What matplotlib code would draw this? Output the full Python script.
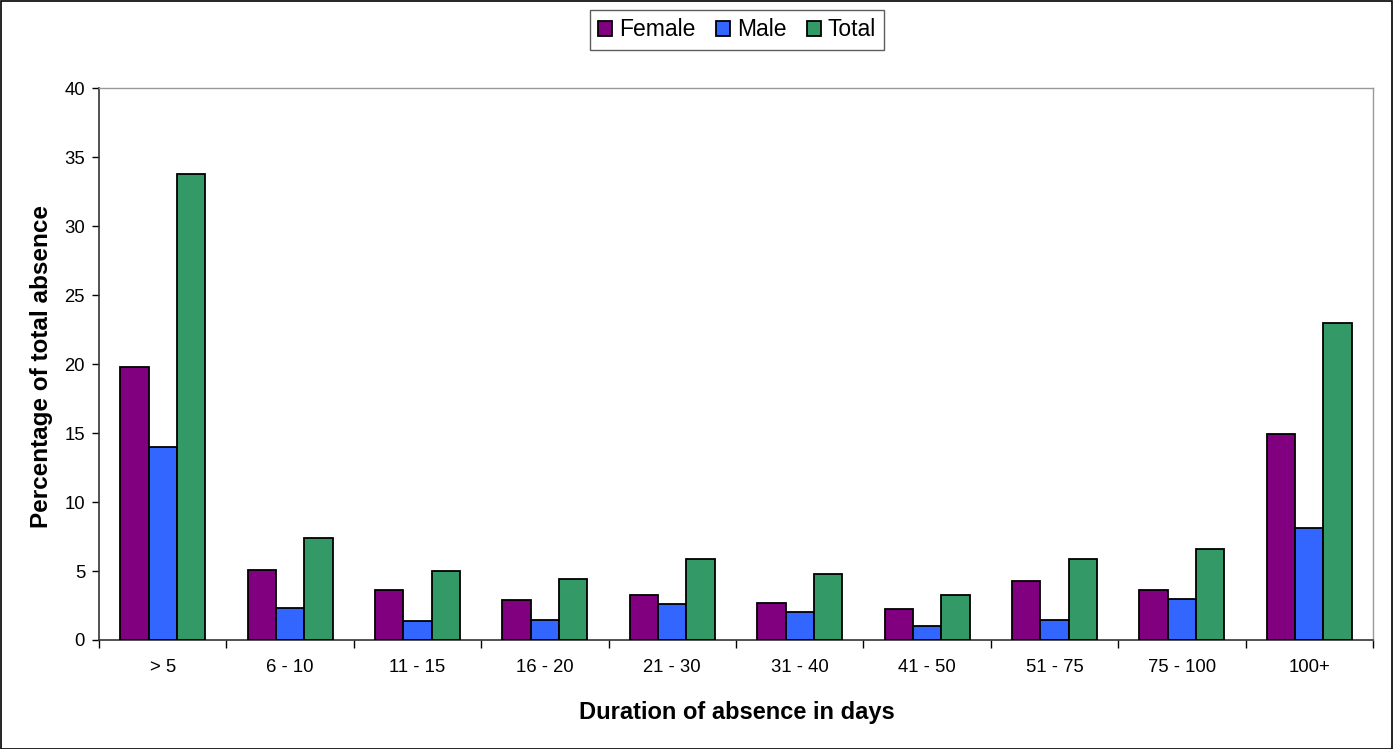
import numpy as np
import matplotlib
matplotlib.use("Agg")
import matplotlib.pyplot as plt
from matplotlib.patches import Rectangle

plt.rcParams["font.family"] = ["Liberation Sans", "DejaVu Sans"]

categories = ["> 5", "6 - 10", "11 - 15", "16 - 20", "21 - 30",
              "31 - 40", "41 - 50", "51 - 75", "75 - 100", "100+"]
female = [19.8, 5.1, 3.65, 2.9, 3.25, 2.7, 2.25, 4.3, 3.6, 14.9]
male = [14.0, 2.3, 1.4, 1.45, 2.6, 2.05, 1.0, 1.45, 2.95, 8.15]
total = [33.75, 7.4, 5.0, 4.4, 5.9, 4.75, 3.25, 5.9, 6.6, 22.95]

series = [("Female", female, "#800080"),
          ("Male", male, "#3366FF"),
          ("Total", total, "#339966")]

W, H = 1393, 749
fig = plt.figure(figsize=(W / 100, H / 100), dpi=100)
ax = fig.add_axes([99 / W, 1 - 640 / H, (1373 - 99) / W, (640 - 88) / H])

x = np.arange(len(categories))
bw = 1 / 4.5
for i, (name, vals, col) in enumerate(series):
    ax.bar(x + (i - 1) * bw, vals, width=bw, color=col,
           edgecolor="black", linewidth=1.3, label=name, zorder=3)

ax.set_xlim(-0.5, len(categories) - 0.5)
ax.set_ylim(0, 40)
ax.set_yticks(range(0, 41, 5))
ax.set_xticks(x)
ax.set_xticklabels(categories, fontsize=13.3)
ax.set_xticks(np.arange(-0.5, len(categories), 1), minor=True)
ax.tick_params(axis="x", which="major", length=0, pad=14)
ax.tick_params(axis="x", which="minor", length=6, direction="out", width=1)
ax.tick_params(axis="y", length=5, direction="out", width=1,
               labelsize=13.3, pad=5)

for side in ["top", "right"]:
    ax.spines[side].set_color("#999999")
    ax.spines[side].set_linewidth(1)
for side in ["left", "bottom"]:
    ax.spines[side].set_color("#333333")
    ax.spines[side].set_linewidth(1.2)

fig.text(737 / W, 1 - 712 / H, "Duration of absence in days",
         fontsize=17, fontweight="bold", ha="center", va="center")
fig.text(42 / W, 1 - 366 / H, "Percentage of total absence",
         fontsize=17.5, fontweight="bold", ha="center", va="center",
         rotation=90)

leg = fig.legend(loc="center", bbox_to_anchor=(737 / W, 1 - 30 / H),
                 ncol=3, fontsize=16.5, frameon=True, fancybox=False,
                 handlelength=0.6, handleheight=0.6, handletextpad=0.3,
                 columnspacing=0.9, borderpad=0.35, borderaxespad=0)
leg.get_frame().set_edgecolor("#333333")
leg.get_frame().set_linewidth(1)

# outer chart border
fig.patches.append(Rectangle((0.5 / W, 0.5 / H), 1 - 1.5 / W, 1 - 1.5 / H,
                             transform=fig.transFigure, fill=False,
                             edgecolor="black", linewidth=1.2))

fig.savefig("out.png", dpi=100)
